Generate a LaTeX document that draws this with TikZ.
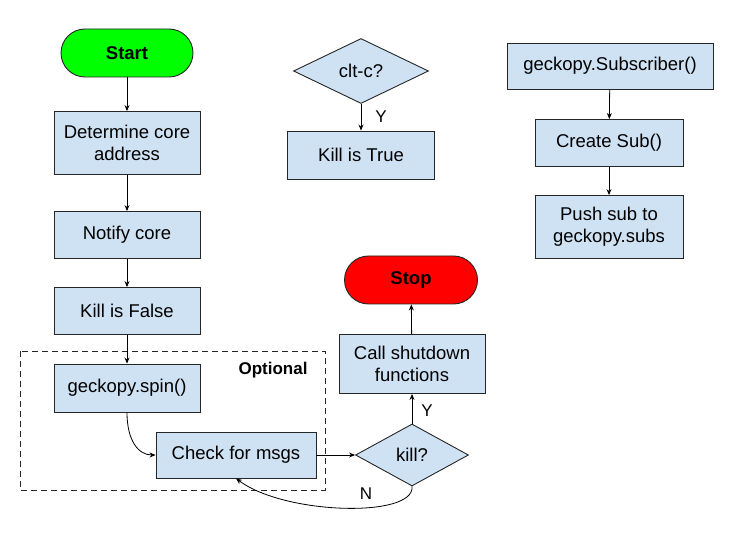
\documentclass[tikz,border=0pt]{standalone}
\usepackage{fontspec}
\setmainfont{Liberation Sans}
\usetikzlibrary{shapes.geometric,arrows.meta}
\definecolor{boxblue}{HTML}{CFE2F3}
\definecolor{startgreen}{HTML}{00FF00}
\definecolor{stopred}{HTML}{FF0000}
\tikzset{
  procbox/.style={draw=black!85, fill=boxblue, line width=0.9pt, inner sep=0pt, align=center,
    font=\fontsize{18.5}{22}\selectfont},
  termbox/.style={draw=black!85, line width=0.9pt, inner sep=0pt, rounded corners=24pt,
    font=\fontsize{18.5}{22}\selectfont\bfseries},
  decbox/.style={draw=black!85, fill=boxblue, line width=0.9pt, diamond, inner sep=0pt, aspect=2,
    font=\fontsize{18.5}{22}\selectfont},
  conn/.style={draw=black, line width=0.8pt, -{Stealth[length=6pt,width=5pt]}},
  lbl/.style={font=\fontsize{17}{20}\selectfont, inner sep=0pt},
}
\begin{document}
\begin{tikzpicture}[x=1pt,y=-1pt]
\useasboundingbox (0,0) rectangle (750,537);
% dashed optional region
\draw[black!85, line width=0.9pt, dash pattern=on 6pt off 4pt] (20,351) rectangle (325,490);
\node[font=\fontsize{17}{20}\selectfont\bfseries, inner sep=0pt] (opt) at (273,370) {Optional};

\node[termbox, fill=startgreen, minimum width=132pt, minimum height=48pt] (start) at (127,53) {Start};
\node[procbox, minimum width=146pt, minimum height=63pt] (det) at (127,143) {Determine core\\address};
\node[procbox, minimum width=146pt, minimum height=47pt] (notify) at (127,235) {Notify core};
\node[procbox, minimum width=146pt, minimum height=47pt] (kfalse) at (127,311) {Kill is False};
\node[procbox, minimum width=146pt, minimum height=48pt] (spin) at (127,388) {geckopy.spin()};
\node[procbox, minimum width=160pt, minimum height=46pt] (check) at (236,455) {Check for msgs};
\node[decbox, minimum width=113pt, minimum height=62pt] (kill) at (412,455) {kill?};
\node[procbox, minimum width=146pt, minimum height=59pt] (shut) at (412,364) {Call shutdown\\functions};
\node[termbox, fill=stopred, minimum width=133pt, minimum height=48pt] (stop) at (411,280) {Stop};

\node[decbox, minimum width=135pt, minimum height=65pt] (cltc) at (361,71) {clt-c?};
\node[procbox, minimum width=147pt, minimum height=48pt] (ktrue) at (361,155) {Kill is True};

\node[procbox, minimum width=206pt, minimum height=46pt] (subr) at (610,66) {geckopy.Subscriber()};
\node[procbox, minimum width=148pt, minimum height=47pt] (csub) at (609,143) {Create Sub()};
\node[procbox, minimum width=148pt, minimum height=63pt] (push) at (609,227) {Push sub to\\geckopy.subs};

\draw[conn] (start) -- (det);
\draw[conn] (det) -- (notify);
\draw[conn] (notify) -- (kfalse);
\draw[conn] (kfalse) -- (spin);
\draw[conn] (spin.south) .. controls (127,440) and (138,455) .. (check.west);
\draw[conn] (check) -- (kill);
\draw[conn] (kill) -- (shut);
\draw[conn] (shut) -- (stop);
\draw[conn] (kill.south) .. controls (415,518) and (285,515) .. (check.south);
\draw[conn] (cltc) -- (ktrue);
\draw[conn] (subr) -- (csub);
\draw[conn] (csub) -- (push);

\node[lbl] (y1) at (381,117) {Y};
\node[lbl] (y2) at (427,411) {Y};
\node[lbl] (n1) at (366,494) {N};
\end{tikzpicture}
\end{document}
